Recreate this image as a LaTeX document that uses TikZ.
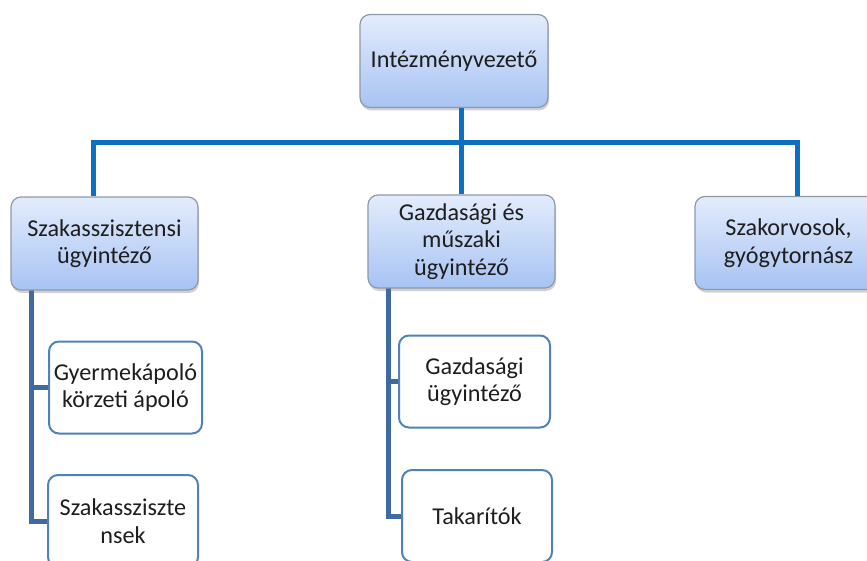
\documentclass[tikz,border=0pt]{standalone}
\usepackage{fontspec}
\setmainfont{Carlito}
\usetikzlibrary{shadows}
\definecolor{busblue}{HTML}{0C6FC0}
\definecolor{spineblue}{HTML}{3F6AA1}
\definecolor{childborder}{HTML}{4F81BD}
\definecolor{topfill}{HTML}{E3ECFC}
\definecolor{botfill}{HTML}{A7C3F3}
\definecolor{boxborder}{HTML}{8E9AAA}
\definecolor{txt}{HTML}{1E1E1E}
\tikzset{
  mainbox/.style={draw=boxborder, line width=1.2pt, rounded corners=10pt,
    top color=topfill, bottom color=botfill, shading angle=0,
    drop shadow={shadow xshift=1pt, shadow yshift=-3pt, opacity=0.3, fill=black!60},
    minimum width=187pt, minimum height=93pt, align=center, text=txt,
    font=\fontsize{24.2}{27.5}\selectfont, inner sep=0pt},
  childbox/.style={draw=childborder, line width=2pt, rounded corners=10pt,
    fill=white, minimum height=92pt, align=center, text=txt,
    font=\fontsize{24.2}{27.5}\selectfont, inner sep=0pt},
  bus/.style={draw=busblue, line width=5pt},
  spine/.style={draw=spineblue, line width=5pt}
}
\begin{document}
\begin{tikzpicture}[x=1pt,y=-1pt]
\useasboundingbox (0,0) rectangle (867,561);
\clip (0,0) rectangle (867,561);
\coordinate (busL) at (93,143);
\coordinate (busR) at (797,143);
\coordinate (busM) at (461,143);
\coordinate (lspine) at (31,290);
\coordinate (mspine) at (388,288);

\node[childbox, minimum width=153pt] (c1) at (125.5,387.5) {Gyermekápoló\\körzeti ápoló};
\node[childbox, minimum width=150pt] (c2) at (123,521) {Szakassziszte\\nsek};
\node[childbox, minimum width=151pt] (m1) at (474.5,381.5) {Gazdasági\\ügyintéző};
\node[childbox, minimum width=150pt] (m2) at (477,516) {Takarítók};

\draw[spine] (lspine) |- (c1.west);
\draw[spine] (lspine) |- (c2.west);
\draw[spine] (mspine) |- (m1.west);
\draw[spine] (mspine) |- (m2.west);

\node[mainbox, minimum width=188pt] (top) at (454,61) {Intézményvezető};
\node[mainbox] (left) at (104.5,243.5) {Szakasszisztensi\\ügyintéző};
\node[mainbox] (mid) at (461.5,241.5) {Gazdasági és\\műszaki\\ügyintéző};
\node[mainbox] (right) at (788.5,243) {Szakorvosok,\\gyógytornász};

\draw[bus] (busM |- top.south) -- (busM |- mid.north);
\draw[bus, line cap=rect] (busL) -- (busR);
\draw[bus] (busL) -- (busL |- left.north);
\draw[bus] (busR) -- (busR |- right.north);
\end{tikzpicture}
\end{document}
